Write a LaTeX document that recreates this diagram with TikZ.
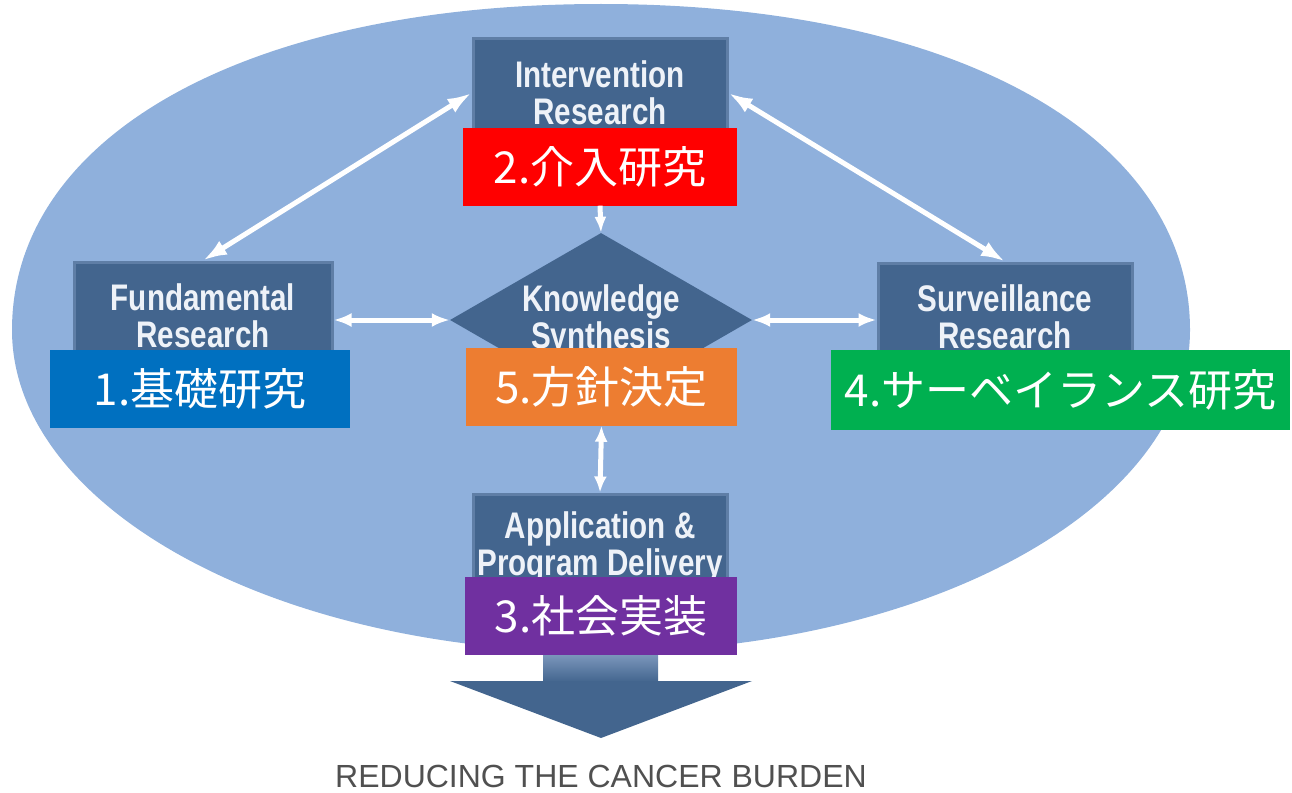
\documentclass[tikz,border=0pt]{standalone}
\usepackage{fontspec}
\usepackage{tikz}
\usetikzlibrary{shapes.geometric}
\usetikzlibrary{arrows.meta}
\setmainfont{Liberation Sans}
\newfontfamily\boxfont[FakeStretch=0.8]{Liberation Sans}
\newfontfamily\jpfont{Noto Sans CJK JP}
\definecolor{ovalblue}{RGB}{143,176,220}
\definecolor{boxblue}{RGB}{67,101,142}
\definecolor{boxedge}{RGB}{95,126,166}
\definecolor{boxtext}{RGB}{238,242,248}
\definecolor{shaftlight}{RGB}{128,155,192}
\definecolor{tagred}{RGB}{255,0,0}
\definecolor{tagblue}{RGB}{0,112,192}
\definecolor{tagorange}{RGB}{237,125,49}
\definecolor{taggreen}{RGB}{0,176,80}
\definecolor{tagpurple}{RGB}{112,48,160}
\definecolor{captiongray}{RGB}{80,80,80}

\begin{document}
\begin{tikzpicture}[x=1pt, y=-1pt,
    >={Latex[length=24pt,width=16pt]},
    stage/.style={fill=boxblue, draw=boxedge, line width=3pt,
        minimum width=254pt, minimum height=108pt, inner sep=0pt,
        text=boxtext, align=center,
        font=\boxfont\bfseries\fontsize{37}{37}\selectfont},
    hub/.style={diamond, aspect=1.74, fill=boxblue, minimum width=302pt,
        minimum height=174pt, inner sep=0pt, text=boxtext, align=center,
        font=\boxfont\bfseries\fontsize{37}{37}\selectfont},
    tag/.style={minimum height=78pt, inner sep=0pt, text=white,
        font=\jpfont\fontsize{44}{44}\selectfont},
    link/.style={draw=white, line width=5pt}]
    \useasboundingbox (0,0) rectangle (1292,792);
    % Oval
    \fill[ovalblue] (12,330) .. controls (12,135) and (248,4) .. (601,4)
        .. controls (954,4) and (1190,135) .. (1190,330)
        .. controls (1190,508) and (926,652) .. (601,652)
        .. controls (276,652) and (12,508) .. (12,330) -- cycle;
    % Big arrow
    \shade[top color=shaftlight, bottom color=boxblue] (543,652) rectangle (658,682);
    \fill[boxblue] (450,681) -- (752,681) -- (601,738) -- cycle;
    % Boxes
    \node[stage] (interv) at (600,93) {Intervention\\Research};
    \node[stage, minimum width=258pt] (fund) at (203,316) {Fundamental\\Research};
    \node[stage] (surv) at (1005,317) {Surveillance\\Research};
    \node[stage] (appl) at (600,548) {Application \&\\Program Delivery};
    \node[hub] (know) at (601,320) {Knowledge\\Synthesis};
    % Tags
    \node[tag, fill=tagred, minimum width=274pt] (tag2) at (600,166.5) {2.介入研究};
    \node[tag, fill=tagblue, minimum width=300pt] (tag1) at (200,389) {1.基礎研究};
    \node[tag, fill=tagorange, minimum width=271pt] (tag5) at (601.5,386.5) {5.方針決定};
    \node[tag, fill=taggreen, minimum width=459pt, minimum height=80pt] (tag4) at (1060.5,390) {4.サーベイランス研究};
    \node[tag, fill=tagpurple, minimum width=272pt] (tag3) at (601,616) {3.社会実装};
    % Arrows
    \draw[link, <->] (interv.west) -- (fund.north);
    \draw[link, <->] (interv.east) -- (surv.north);
    \draw[link, {Latex[length=18pt,width=14pt]}-{Latex[length=18pt,width=14pt]}] (know.west -| fund.east) -- (know.west);
    \draw[link, {Latex[length=18pt,width=14pt]}-{Latex[length=18pt,width=14pt]}] (know.east) -- (know.east -| surv.west);
    \draw[link, -{Latex[length=16pt,width=12pt]}] (tag2.south) -- (know.north);
    \draw[link, {Latex[length=16pt,width=13pt]}-{Latex[length=16pt,width=13pt]}] (tag5.south) -- (appl.north);
    % Caption
    \node[font=\fontsize{32}{32}\selectfont, text=captiongray, inner sep=0pt] (burden) at (601,776) {REDUCING THE CANCER BURDEN};
\end{tikzpicture}
\end{document}
